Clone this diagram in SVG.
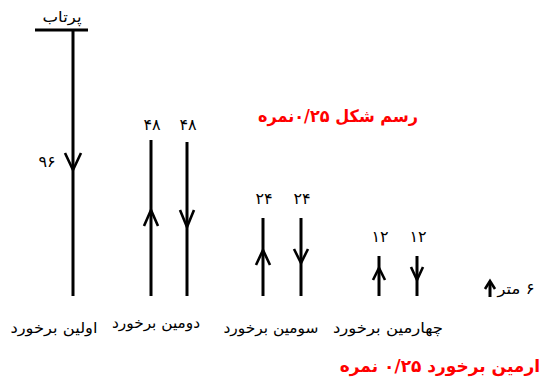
<svg xmlns="http://www.w3.org/2000/svg" width="542" height="381" viewBox="0 0 542 381">
<style>
.ln{stroke:#000;stroke-width:3;fill:none}
.ar{stroke:#000;stroke-width:2.6;fill:none;stroke-linejoin:miter}
.t{font-family:"DejaVu Sans",sans-serif;font-size:15px;fill:#000;direction:rtl}
.n{font-family:"DejaVu Sans",sans-serif;font-size:16px;fill:#000;text-anchor:middle}
.r{font-family:"DejaVu Sans",sans-serif;font-size:17px;font-weight:bold;fill:#ff0000;direction:rtl}
</style>
<g id="connectors">
<g id="throw">
<line class="ln" x1="35" y1="30" x2="88" y2="30"/>
<line class="ln" x1="73" y1="30" x2="73" y2="296"/>
<polyline class="ar" points="65,153 73,170 81,153"/>
<text class="t" x="62" y="22" text-anchor="middle" textLength="39" lengthAdjust="spacingAndGlyphs">پرتاب</text>
<text class="n" x="47" y="167">۹۶</text>
</g>
<g id="up48">
<line class="ln" x1="151" y1="140" x2="151" y2="296"/>
<polyline class="ar" points="144,226 151,210 158,226"/>
<text class="n" x="152" y="130">۴۸</text>
</g>
<g id="down48">
<line class="ln" x1="187" y1="142" x2="187" y2="296"/>
<polyline class="ar" points="180,210 187,227 194,210"/>
<text class="n" x="188" y="130">۴۸</text>
</g>
<g id="up24">
<line class="ln" x1="263" y1="218" x2="263" y2="296"/>
<polyline class="ar" points="256,265 263,250 270,265"/>
<text class="n" x="264" y="204">۲۴</text>
</g>
<g id="down24">
<line class="ln" x1="301" y1="218" x2="301" y2="296"/>
<polyline class="ar" points="294,249 301,263 308,249"/>
<text class="n" x="302" y="204">۲۴</text>
</g>
<g id="up12">
<line class="ln" x1="379" y1="256" x2="379" y2="296"/>
<polyline class="ar" points="373,280 379,268 385,280"/>
<text class="n" x="380" y="242">۱۲</text>
</g>
<g id="down12">
<line class="ln" x1="417" y1="256" x2="417" y2="296"/>
<polyline class="ar" points="411,267 417,280 423,267"/>
<text class="n" x="418" y="242">۱۲</text>
</g>
<g id="scale">
<line class="ln" x1="490" y1="282" x2="490" y2="297"/>
<polyline class="ar" points="485,289 490,281 495,289"/>
<text class="t" x="516" y="294" text-anchor="middle" textLength="37" lengthAdjust="spacingAndGlyphs">۶ متر</text>
</g>
</g>
<g id="labels">
<text class="t" x="54" y="333" text-anchor="middle" textLength="87" lengthAdjust="spacingAndGlyphs">اولین برخورد</text>
<text class="t" x="156" y="328" text-anchor="middle" textLength="88" lengthAdjust="spacingAndGlyphs">دومین برخورد</text>
<text class="t" x="271" y="333" text-anchor="middle" textLength="95" lengthAdjust="spacingAndGlyphs">سومین برخورد</text>
<text class="t" x="388" y="333" text-anchor="middle" textLength="110" lengthAdjust="spacingAndGlyphs">چهارمین برخورد</text>
<text class="r" x="338" y="122" text-anchor="middle" textLength="160" lengthAdjust="spacingAndGlyphs">رسم شکل  ۰/۲۵نمره</text>
<text class="r" x="540" y="372" text-anchor="start">ارمین برخورد  ۰/۲۵ نمره</text>
</g>
</svg>
